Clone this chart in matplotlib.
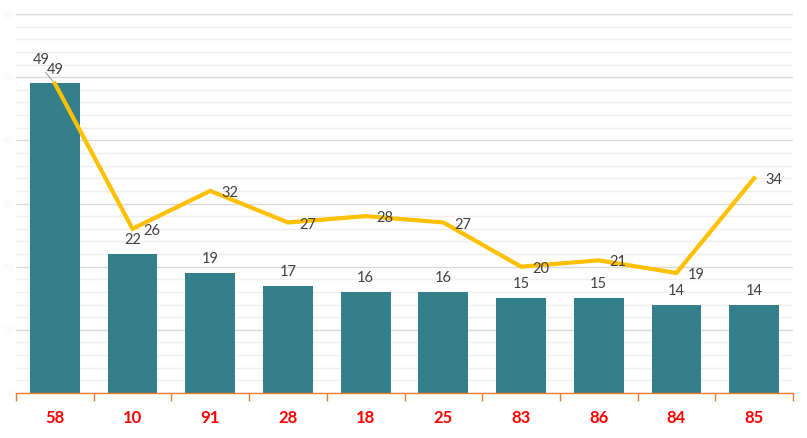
import numpy as np
import matplotlib.pyplot as plt
from matplotlib.ticker import MultipleLocator

categories = ['58', '10', '91', '28', '18', '25', '83', '86', '84', '85']
bar_values = [49, 22, 19, 17, 16, 16, 15, 15, 14, 14]
line_values = [49, 26, 32, 27, 28, 27, 20, 21, 19, 34]

plt.rcParams['font.family'] = ['Lato', 'DejaVu Sans']

fig = plt.figure(figsize=(8.07, 4.38), dpi=100)
ax = fig.add_axes([16 / 807, 45 / 438, 777 / 807, 379 / 438])

x = np.arange(len(categories))
ax.bar(x, bar_values, width=0.64, color='#33808a', zorder=2)
ax.plot(x, line_values, color='#ffc000', lw=3, zorder=3, solid_joinstyle='miter')

# data labels
for i, v in enumerate(bar_values):
    if i == 0:
        ax.annotate(str(v), (i, v), xytext=(-10, 17), textcoords='offset points',
                    ha='center', va='center', fontsize=10.5, color='#404040', zorder=4)
    else:
        ax.annotate(str(v), (i, v), xytext=(0, 10), textcoords='offset points',
                    ha='center', va='center', fontsize=10.5, color='#404040', zorder=4)

for i, v in enumerate(line_values):
    if i == 0:
        ax.annotate(str(v), (i, v), xytext=(0, 10), textcoords='offset points',
                    ha='center', va='center', fontsize=10.5, color='#404040', zorder=4)
        ax.annotate('', (i, v), xytext=(-8, 9.5), textcoords='offset points',
                    arrowprops=dict(arrowstyle='-', color='#a6a6a6', lw=0.8))
    else:
        ax.annotate(str(v), (i, v), xytext=(14, -1.5), textcoords='offset points',
                    ha='center', va='center', fontsize=10.5, color='#404040', zorder=4)

ax.set_xlim(-0.5, len(categories) - 0.5)
ax.set_ylim(0, 60)

ax.yaxis.set_major_locator(MultipleLocator(10))
ax.yaxis.set_minor_locator(MultipleLocator(2))
ax.grid(which='major', axis='y', color='#d9d9d9', lw=1, zorder=0)
ax.grid(which='minor', axis='y', color='#efefef', lw=1, zorder=0)
ax.set_axisbelow(True)
ax.tick_params(axis='y', which='both', length=0, labelsize=7, labelcolor='#f6f6f6', pad=2)

for s in ['top', 'right', 'left']:
    ax.spines[s].set_visible(False)
ax.spines['bottom'].set_color('#ed7d31')
ax.spines['bottom'].set_linewidth(1)

ax.set_xticks(x)
ax.set_xticklabels(categories, fontsize=12, fontweight='bold', color='#ff0000')
ax.tick_params(axis='x', which='major', length=0, pad=12)
ax.set_xticks(np.arange(-0.5, len(categories)), minor=True)
ax.tick_params(axis='x', which='minor', length=6, color='#ed7d31', width=1)

plt.savefig('out.png', dpi=100)
